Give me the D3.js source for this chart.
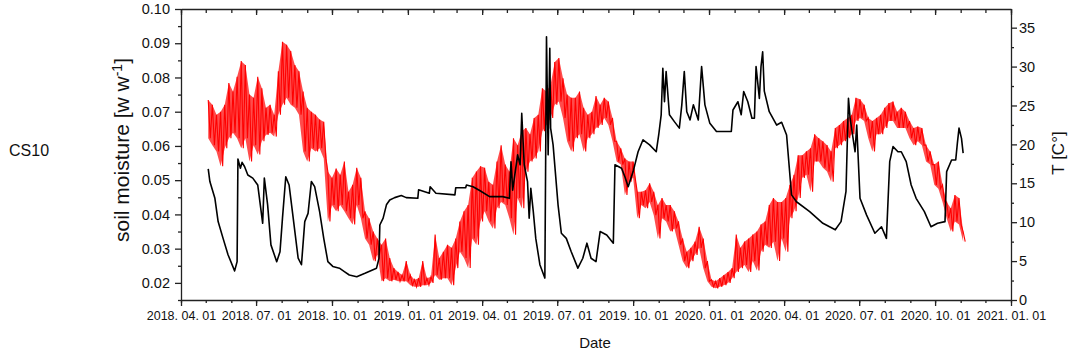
<!DOCTYPE html>
<html>
<head>
<meta charset="utf-8">
<script src="https://cdn.jsdelivr.net/npm/d3@7"></script>
<style>
	body{margin:0;background:#fff;}
	svg{display:block;font-family:Arial,"Liberation Sans",sans-serif;}
	.axis path,.axis line{stroke:#222;stroke-width:1.3px;}
</style>
</head>
<body>
<div id="chart"></div>
<script>
// soil moisture (w w-1)
var soilMoisture=[
	["2018-05-04",0.0533],["2018-05-06",0.0496],["2018-05-12",0.0448],["2018-05-16",0.0379],["2018-05-22",0.0330],
	["2018-05-28",0.0282],["2018-06-05",0.0235],["2018-06-08",0.0262],["2018-06-09",0.0562],["2018-06-12",0.0535],
	["2018-06-14",0.0552],["2018-06-17",0.0540],["2018-06-21",0.0515],["2018-06-27",0.0506],["2018-07-03",0.0486],
	["2018-07-09",0.0374],["2018-07-11",0.0506],["2018-07-15",0.0428],["2018-07-19",0.0311],["2018-07-26",0.0262],
	["2018-07-30",0.0291],["2018-08-02",0.0389],["2018-08-06",0.0510],["2018-08-10",0.0486],["2018-08-15",0.0389],
	["2018-08-21",0.0272],["2018-08-25",0.0253],["2018-08-29",0.0379],["2018-09-02",0.0403],["2018-09-06",0.0496],
	["2018-09-10",0.0481],["2018-09-16",0.0408],["2018-09-21",0.0330],["2018-09-26",0.0262],["2018-10-02",0.0248],
	["2018-10-10",0.0243],["2018-10-16",0.0233],["2018-10-22",0.0223],["2018-10-31",0.0218],["2018-11-10",0.0228],
	["2018-11-24",0.0243],["2018-11-27",0.0272],["2018-11-28",0.0369],["2018-12-02",0.0389],["2018-12-06",0.0428],
	["2018-12-10",0.0442],["2018-12-16",0.0449],["2018-12-24",0.0455],["2018-12-30",0.0449],["2019-01-13",0.0447],
	["2019-01-14",0.0472],["2019-01-27",0.0462],["2019-01-28",0.0481],["2019-02-04",0.0462],["2019-02-27",0.0457],
	["2019-02-28",0.0478],["2019-03-12",0.0478],["2019-03-13",0.0486],["2019-03-21",0.0481],["2019-03-29",0.0470],
	["2019-04-10",0.0452],["2019-04-26",0.0452],["2019-05-04",0.0447],["2019-05-06",0.0554],["2019-05-08",0.0471],
	["2019-05-14",0.0574],["2019-05-17",0.0545],["2019-05-19",0.0695],["2019-05-22",0.0545],["2019-05-26",0.0496],
	["2019-05-28",0.0389],["2019-05-30",0.0476],["2019-06-02",0.0408],["2019-06-05",0.0330],["2019-06-10",0.0253],
	["2019-06-16",0.0214],["2019-06-18",0.0919],["2019-06-20",0.0574],["2019-06-22",0.0885],["2019-06-23",0.0652],
	["2019-06-26",0.0603],["2019-07-02",0.0428],["2019-07-06",0.0345],["2019-07-12",0.0330],["2019-07-18",0.0291],
	["2019-07-26",0.0243],["2019-08-01",0.0272],["2019-08-06",0.0316],["2019-08-11",0.0272],["2019-08-17",0.0262],
	["2019-08-22",0.0350],["2019-08-30",0.0340],["2019-09-07",0.0316],["2019-09-09",0.0545],["2019-09-17",0.0535],
	["2019-09-21",0.0510],["2019-09-25",0.0481],["2019-10-01",0.0525],["2019-10-07",0.0583],["2019-10-13",0.0618],
	["2019-10-21",0.0603],["2019-10-29",0.0583],["2019-11-01",0.0632],["2019-11-04",0.0691],["2019-11-06",0.0827],
	["2019-11-08",0.0729],["2019-11-10",0.0817],["2019-11-14",0.0691],["2019-11-20",0.0671],["2019-11-26",0.0652],
	["2019-11-29",0.0720],["2019-12-02",0.0817],["2019-12-05",0.0700],["2019-12-09",0.0676],["2019-12-13",0.0720],
	["2019-12-19",0.0676],["2019-12-23",0.0832],["2019-12-27",0.0720],["2020-01-02",0.0666],["2020-01-10",0.0642],
	["2020-01-28",0.0642],["2020-01-30",0.0705],["2020-02-05",0.0729],["2020-02-09",0.0691],["2020-02-12",0.0759],
	["2020-02-17",0.0729],["2020-02-22",0.0681],["2020-02-25",0.0681],["2020-02-27",0.0832],["2020-03-02",0.0739],
	["2020-03-04",0.0832],["2020-03-06",0.0875],["2020-03-08",0.0760],["2020-03-14",0.0700],["2020-03-23",0.0661],
	["2020-03-29",0.0669],["2020-04-04",0.0632],["2020-04-10",0.0457],["2020-04-16",0.0437],["2020-05-02",0.0408],
	["2020-05-18",0.0374],["2020-06-02",0.0355],["2020-06-09",0.0379],["2020-06-15",0.0467],["2020-06-18",0.0739],
	["2020-06-20",0.0681],["2020-06-26",0.0583],["2020-06-28",0.0661],["2020-07-02",0.0447],["2020-07-10",0.0398],
	["2020-07-20",0.0345],["2020-07-28",0.0364],["2020-08-03",0.0330],["2020-08-07",0.0554],["2020-08-11",0.0598],
	["2020-08-17",0.0583],["2020-08-21",0.0583],["2020-08-27",0.0554],["2020-09-02",0.0486],["2020-09-08",0.0447],
	["2020-09-18",0.0408],["2020-09-26",0.0364],["2020-10-04",0.0374],["2020-10-13",0.0379],["2020-10-15",0.0525],
	["2020-10-21",0.0559],["2020-10-26",0.0559],["2020-10-28",0.0608],["2020-10-30",0.0652],["2020-11-02",0.0622],
	["2020-11-04",0.0579]
];

// temperature (C), highs and lows of each 5-day block
var tempStart="2018-05-04", tempStepDays=5;
var tempHigh=[
	25.7,25.1,23.8,24.2,25.1,27.9,26.8,28.7,30.7,30.2,
	26.4,26.0,28.7,27.2,24.7,25.1,23.8,29.4,33.2,32.8,
	32.0,30.2,29.4,26.8,24.7,24.2,23.8,23.2,22.9,16.5,
	15.7,16.9,16.1,17.8,13.9,14.8,17.0,15.7,11.4,10.5,
	8.8,7.9,7.1,7.9,5.4,4.1,3.6,3.2,5.0,3.2,
	2.6,2.8,5.0,2.8,3.0,8.4,5.4,6.2,7.1,6.7,
	7.9,10.1,11.4,12.2,15.7,16.5,17.2,17.0,15.2,14.8,
	17.8,19.9,17.4,16.5,20.8,19.9,21.7,22.1,21.3,23.4,
	23.8,27.2,26.8,27.7,30.6,31.1,28.5,26.4,26.0,26.0,
	26.8,24.7,23.8,24.2,26.2,25.1,26.0,25.5,23.4,20.4,
	19.5,18.2,17.8,17.8,13.9,13.9,14.1,15.0,13.9,12.2,
	13.1,12.2,12.2,11.4,10.1,7.9,6.2,6.7,7.5,9.4,
	7.9,5.0,2.6,2.4,2.8,3.2,3.6,4.1,8.4,6.7,
	7.5,7.9,8.4,8.8,9.7,10.1,12.2,13.1,12.6,12.6,
	13.1,14.8,16.1,18.6,18.6,19.1,19.5,21.3,20.8,20.4,
	19.9,19.1,22.1,22.5,23.0,23.4,23.8,26.0,25.8,25.1,
	23.4,23.0,23.4,23.8,24.7,25.3,25.5,24.2,24.7,24.2,
	23.0,22.1,22.3,22.1,19.9,19.1,17.4,17.8,14.8,12.6,
	11.8,13.5,13.1,8.8
];
var tempLow=[
	20.8,19.9,19.1,17.2,19.5,20.8,21.5,20.8,19.5,20.8,
	17.8,19.9,18.7,20.4,21.2,21.5,21.0,23.8,25.1,26.0,
	25.1,24.7,23.8,19.1,17.8,19.5,19.1,19.5,18.2,10.1,
	12.2,11.4,12.2,11.4,10.5,9.7,12.2,10.5,7.9,7.1,
	5.0,5.8,2.4,2.8,2.4,2.6,2.4,2.4,2.4,1.9,
	1.7,1.7,1.9,1.9,2.2,3.2,2.6,2.8,2.8,1.9,
	4.1,6.2,5.4,4.1,7.9,7.1,10.1,11.4,10.1,9.2,
	11.8,12.6,12.2,10.5,8.4,13.1,11.8,16.5,17.8,18.2,
	19.1,21.7,22.5,23.4,25.1,25.5,23.4,20.4,19.1,20.8,
	21.3,19.1,20.8,21.3,22.1,22.5,23.4,22.5,20.4,17.8,
	17.4,13.5,15.2,15.7,10.5,12.2,11.8,12.6,10.9,7.9,
	10.5,10.1,8.8,9.2,7.1,5.0,4.1,5.0,5.8,6.7,
	4.1,2.4,1.7,1.5,1.7,1.9,2.2,2.8,3.6,4.1,
	4.5,3.6,5.0,3.8,6.2,7.1,6.7,7.5,5.0,7.9,
	6.2,10.5,11.4,13.1,15.7,16.1,13.9,17.8,17.8,17.0,
	16.5,15.2,19.5,19.9,20.4,20.8,21.3,23.0,23.4,23.0,
	20.8,19.1,21.3,21.3,22.1,23.0,23.0,22.1,22.1,22.1,
	20.8,19.9,20.4,19.9,17.8,17.4,14.8,14.3,12.6,10.5,
	8.8,10.1,9.7,7.5
];

// axes
var dateRange=["2018-04-01","2021-01-01"];
var dateTicks=["2018-04-01","2018-07-01","2018-10-01","2019-01-01","2019-04-01","2019-07-01",
	"2019-10-01","2020-01-01","2020-04-01","2020-07-01","2020-10-01","2021-01-01"];
var moistRange=[0.015,0.10];
var moistTicks=[0.02,0.03,0.04,0.05,0.06,0.07,0.08,0.09,0.10];
var moistMinor=[0.015,0.025,0.035,0.045,0.055,0.065,0.075,0.085,0.095];
var tempRange=[0,37.4];
var tempTicks=[0,5,10,15,20,25,30,35];
var tempMinor=[2.5,7.5,12.5,17.5,22.5,27.5,32.5];

var W=1072, H=350;
var margin={top:9,right:61,bottom:50,left:181};
var iw=W-margin.left-margin.right, ih=H-margin.top-margin.bottom;
var parse=d3.utcParse("%Y-%m-%d");
var font="Arial,'Liberation Sans',sans-serif";

var x=d3.scaleUtc().domain(dateRange.map(parse)).range([0,iw]);
var yL=d3.scaleLinear().domain(moistRange).range([ih,0]);
var yR=d3.scaleLinear().domain(tempRange).range([ih,0]);

var svg=d3.select("#chart").append("svg").attr("width",W).attr("height",H);
var g=svg.append("g").attr("transform","translate("+margin.left+","+margin.top+")");

// temperature: each block's high then low
var t0=parse(tempStart);
var tempBlocks=tempHigh.map(function(v,i){
	return {t:d3.utcHour.offset(t0,i*tempStepDays*24),hi:v,lo:tempLow[i]};
});
var tempSeries=[];
tempBlocks.forEach(function(b){
	tempSeries.push([b.t,b.hi]);
	tempSeries.push([d3.utcHour.offset(b.t,tempStepDays*12),b.lo]);
});
g.append("path").datum(tempBlocks)
	.attr("fill","#ff0000").attr("fill-opacity",0.7).attr("stroke","none")
	.attr("d",d3.area().x(function(d){return x(d.t);})
		.y0(function(d){return yR(d.lo);}).y1(function(d){return yR(d.hi);}));
g.append("path").datum(tempSeries)
	.attr("fill","none").attr("stroke","#ff0000").attr("stroke-width",1.1)
	.attr("d",d3.line().x(function(d){return x(d[0]);}).y(function(d){return yR(d[1]);}));

g.append("path").datum(soilMoisture)
	.attr("fill","none").attr("stroke","#000").attr("stroke-width",1.6).attr("stroke-linejoin","round")
	.attr("d",d3.line().x(function(d){return x(parse(d[0]));}).y(function(d){return yL(d[1]);}));

// axes
var monthTicks=d3.utcMonth.range(parse(dateRange[0]),d3.utcDay.offset(parse(dateRange[1]),1));
function noLabel(){return "";}

g.append("g").attr("class","axis").attr("transform","translate(0,"+ih+")")
	.call(d3.axisBottom(x).tickValues(monthTicks).tickSize(3).tickSizeOuter(0).tickFormat(noLabel))
	.select(".domain").remove();
var bx=g.append("g").attr("class","axis").attr("transform","translate(0,"+ih+")")
	.call(d3.axisBottom(x).tickValues(dateTicks.map(parse)).tickSize(6).tickSizeOuter(0).tickPadding(5)
		.tickFormat(d3.utcFormat("%Y. %m. %d")));
bx.selectAll("text").attr("font-size",12.5).attr("font-family",font).attr("fill","#111");

g.append("g").attr("class","axis")
	.call(d3.axisTop(x).tickValues(monthTicks).tickSize(-4).tickSizeOuter(0).tickFormat(noLabel));
g.append("g").attr("class","axis")
	.call(d3.axisTop(x).tickValues(dateTicks.map(parse)).tickSize(-6).tickSizeOuter(0).tickFormat(noLabel))
	.select(".domain").remove();

g.append("g").attr("class","axis")
	.call(d3.axisLeft(yL).tickValues(moistMinor).tickSize(3).tickSizeOuter(0).tickFormat(noLabel))
	.select(".domain").remove();
var ly=g.append("g").attr("class","axis")
	.call(d3.axisLeft(yL).tickValues(moistTicks).tickSize(6).tickSizeOuter(0).tickPadding(5).tickFormat(d3.format(".2f")));
ly.selectAll("text").attr("font-size",14.5).attr("font-family",font).attr("fill","#111");

g.append("g").attr("class","axis").attr("transform","translate("+iw+",0)")
	.call(d3.axisRight(yR).tickValues(tempMinor).tickSize(3).tickSizeOuter(0).tickFormat(noLabel))
	.select(".domain").remove();
var ry=g.append("g").attr("class","axis").attr("transform","translate("+iw+",0)")
	.call(d3.axisRight(yR).tickValues(tempTicks).tickSize(6).tickSizeOuter(0).tickPadding(2));
ry.selectAll("text").attr("font-size",14.5).attr("font-family",font).attr("fill","#111");

// titles
svg.append("text").attr("x",595).attr("y",348).attr("text-anchor","middle")
	.attr("font-size",15).attr("fill","#111").text("Date");

var lt=svg.append("text").attr("transform","translate(129,150) rotate(-90)").attr("text-anchor","middle")
	.attr("font-size",21).attr("fill","#111");
lt.append("tspan").text("soil moisture [w w");
lt.append("tspan").attr("font-size",14).attr("dy",-7).text("-1");
lt.append("tspan").attr("dy",7).text("]");

svg.append("text").attr("transform","translate(1064,153) rotate(-90)").attr("text-anchor","middle")
	.attr("font-size",17).attr("fill","#111").text("T [C°]");

svg.append("text").attr("x",9).attr("y",156).attr("font-size",16).attr("fill","#111").text("CS10");
</script>
</body>
</html>
